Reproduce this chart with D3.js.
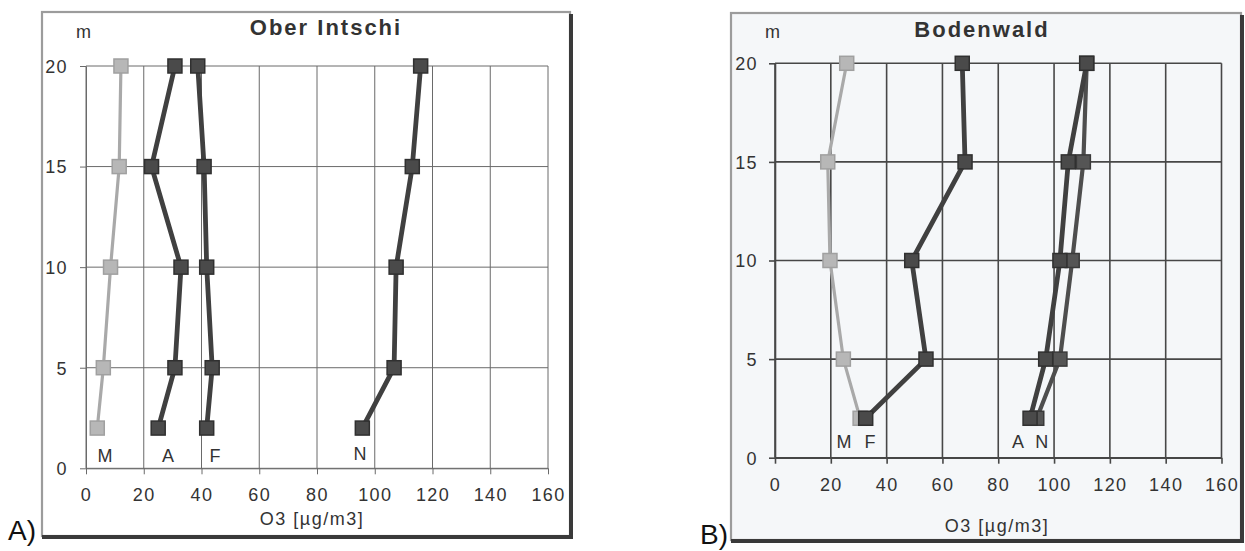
<!DOCTYPE html>
<html>
<head>
<meta charset="utf-8">
<script src="https://cdn.jsdelivr.net/npm/d3@7/dist/d3.min.js"></script>
<style>
  html, body { margin: 0; padding: 0; background: #ffffff; }
  svg { display: block; font-family: "Liberation Sans", Arial, sans-serif; }
</style>
</head>
<body>
<svg id="chart" width="1245" height="551"></svg>
<script>
// Ozone profiles: height above ground (m) vs. O3 concentration (µg/m3)
const heights = [2, 5, 10, 15, 20];
const xTicks = [0, 20, 40, 60, 80, 100, 120, 140, 160];
const yTicks = [0, 5, 10, 15, 20];

// Ober Intschi
const oberM = [3.9, 6.0, 8.5, 11.5, 12.1];
const oberA = [25.0, 30.8, 32.9, 22.7, 30.8];
const oberF = [41.8, 43.7, 41.8, 40.9, 38.7];
const oberN = [95.7, 106.7, 107.4, 113.0, 115.9];

// Bodenwald
const bodenM = [30.5, 24.5, 19.7, 18.9, 25.7];
const bodenF = [32.5, 54.1, 49.0, 68.1, 67.1];
const bodenA = [91.4, 97.0, 102.1, 105.1, 111.7];
const bodenN = [93.8, 102.1, 106.5, 110.5, 111.7];

const LIGHT = { line: "#a9a9a9", fill: "#b7b7b7", stroke: "#a0a0a0", width: 3.2 };
const DARK = { line: "#404040", fill: "#4a4a4a", stroke: "#303030", width: 4.8 };
const DARK2 = { line: "#4e4e4e", fill: "#555555", stroke: "#3a3a3a", width: 4.2 };

const panels = [
  {
    title: "Ober Intschi", tag: "A)",
    frame: { x: 42, y: 12, x2: 570, y2: 536 }, bg: "#ffffff",
    plot: { left: 86, right: 548, top: 66, bottom: 468.3 },
    titleY: 35, titleX: 326, mX: 76, axisTitleX: 312, axisTitleY: 525,
    xLabelY: 501.5, yLabelGap: 18, tagX: 8, tagY: 540,
    gridColor: "#6a6a6a", gridWidth: 1,
    series: [
      { name: "M", values: oberM, style: LIGHT, lx: 6.6, ly: 0.31 },
      { name: "A", values: oberA, style: DARK, lx: 28.4, ly: 0.31 },
      { name: "F", values: oberF, style: DARK, lx: 44.7, ly: 0.31 },
      { name: "N", values: oberN, style: DARK, lx: 94.9, ly: 0.41 }
    ]
  },
  {
    title: "Bodenwald", tag: "B)",
    frame: { x: 731, y: 13, x2: 1241, y2: 540 }, bg: "#f5f7f9",
    plot: { left: 775, right: 1221.5, top: 63.3, bottom: 457.7 },
    titleY: 37, titleX: 982, mX: 765, axisTitleX: 997, axisTitleY: 532,
    xLabelY: 491.5, yLabelGap: 17, tagX: 700, tagY: 544,
    gridColor: "#474747", gridWidth: 1.6,
    series: [
      { name: "M", values: bodenM, style: LIGHT, lx: 24.7, ly: 0.5 },
      { name: "F", values: bodenF, style: DARK, lx: 34.0, ly: 0.5 },
      { name: "N", values: bodenN, style: DARK2, lx: 95.6, ly: 0.5 },
      { name: "A", values: bodenA, style: DARK, lx: 87.1, ly: 0.5 }
    ]
  }
];

const svg = d3.select("#chart");

panels.forEach(p => {
  const g = svg.append("g");
  const f = p.frame;

  // panel background and frame
  g.append("rect")
    .attr("x", f.x).attr("y", f.y)
    .attr("width", f.x2 - f.x).attr("height", f.y2 - f.y)
    .attr("fill", p.bg)
    .attr("stroke", "#9c9c9c").attr("stroke-width", 2.2);
  // dark drop edge on the right and bottom
  g.append("path")
    .attr("d", `M${f.x2 + 1},${f.y + 2} L${f.x2 + 1},${f.y2 + 1} L${f.x},${f.y2 + 1}`)
    .attr("fill", "none").attr("stroke", "#3a3a3a").attr("stroke-width", 4);

  const x = d3.scaleLinear().domain([0, 160]).range([p.plot.left, p.plot.right]);
  const y = d3.scaleLinear().domain([0, 20]).range([p.plot.bottom, p.plot.top]);

  // grid
  const grid = g.append("g").attr("stroke", p.gridColor).attr("stroke-width", p.gridWidth);
  grid.selectAll("line.v").data(xTicks).join("line")
    .attr("x1", d => x(d)).attr("x2", d => x(d))
    .attr("y1", y(20)).attr("y2", y(0));
  grid.selectAll("line.h").data(yTicks).join("line")
    .attr("x1", x(0)).attr("x2", x(160))
    .attr("y1", d => y(d)).attr("y2", d => y(d));

  // axes (tick marks and labels)
  const xAxis = g.append("g")
    .attr("transform", `translate(0,${y(0)})`)
    .call(d3.axisBottom(x).tickValues(xTicks).tickSize(6).tickSizeOuter(0));
  xAxis.select(".domain").attr("stroke", p.gridColor).attr("stroke-width", p.gridWidth);
  xAxis.selectAll(".tick line").attr("stroke", p.gridColor).attr("stroke-width", p.gridWidth);
  xAxis.selectAll(".tick text")
    .attr("y", p.xLabelY - y(0)).attr("dy", null)
    .attr("fill", "#333").style("font-size", "18px").style("letter-spacing", "1.4px");

  const yAxis = g.append("g")
    .attr("transform", `translate(${x(0)},0)`)
    .call(d3.axisLeft(y).tickValues(yTicks).tickSize(6).tickSizeOuter(0));
  yAxis.select(".domain").attr("stroke", p.gridColor).attr("stroke-width", p.gridWidth);
  yAxis.selectAll(".tick line").attr("stroke", p.gridColor).attr("stroke-width", p.gridWidth);
  yAxis.selectAll(".tick text")
    .attr("x", -p.yLabelGap).attr("dy", "0.35em")
    .attr("fill", "#333").style("font-size", "18px").style("letter-spacing", "1.4px");

  // series lines and square markers
  const line = d3.line().x(d => x(d.v)).y(d => y(d.h));
  p.series.forEach(s => {
    const pts = heights.map((h, i) => ({ h, v: s.values[i] }));
    g.append("path").datum(pts)
      .attr("d", line)
      .attr("fill", "none")
      .attr("stroke", s.style.line)
      .attr("stroke-width", s.style.width)
      .attr("stroke-linejoin", "round");
    const size = 14;
    g.selectAll(null).data(pts).join("rect")
      .attr("x", d => x(d.v) - size / 2).attr("y", d => y(d.h) - size / 2)
      .attr("width", size).attr("height", size)
      .attr("fill", s.style.fill)
      .attr("stroke", s.style.stroke).attr("stroke-width", 1.5);
  });

  // series letters along the bottom of the plot
  g.selectAll(null).data(p.series).join("text")
    .attr("x", d => x(d.lx)).attr("y", d => y(d.ly))
    .attr("text-anchor", "middle")
    .attr("fill", "#333").style("font-size", "18px")
    .text(d => d.name);

  // titles
  g.append("text")
    .attr("x", p.titleX).attr("y", p.titleY)
    .attr("text-anchor", "middle")
    .attr("fill", "#333").style("font-size", "22px").style("font-weight", "bold")
    .style("letter-spacing", "2px")
    .text(p.title);
  g.append("text")
    .attr("x", p.mX).attr("y", 38)
    .attr("fill", "#333").style("font-size", "18px")
    .text("m");
  g.append("text")
    .attr("x", p.axisTitleX).attr("y", p.axisTitleY)
    .attr("text-anchor", "middle")
    .attr("fill", "#333").style("font-size", "18px").style("letter-spacing", "1.5px")
    .text("O3 [µg/m3]");

  // panel tag
  svg.append("text")
    .attr("x", p.tagX).attr("y", p.tagY)
    .attr("fill", "#111").style("font-size", "28px")
    .text(p.tag);
});
</script>
</body>
</html>
